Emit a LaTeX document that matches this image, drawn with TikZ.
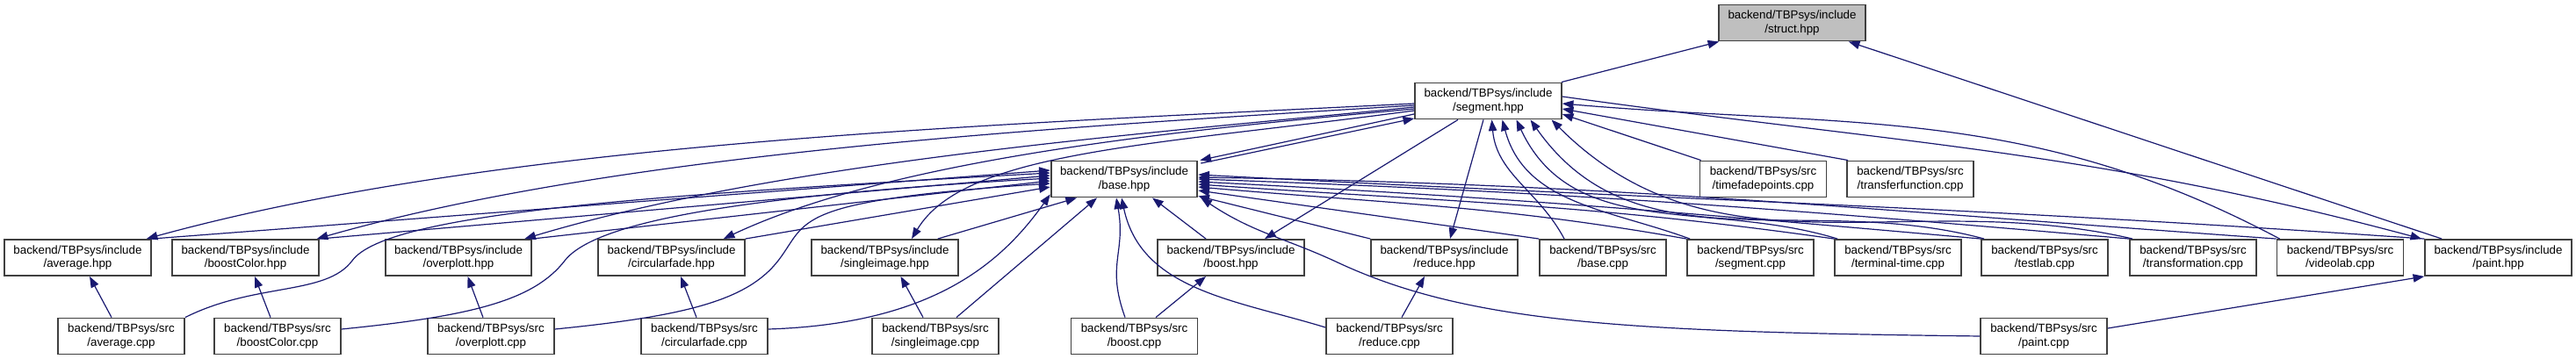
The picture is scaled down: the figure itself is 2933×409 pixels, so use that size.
\documentclass[tikz,border=0pt]{standalone}
\usepackage{fontspec}
\setmainfont{Liberation Sans}
\usetikzlibrary{arrows.meta}
\usepackage{xcolor}
\definecolor{edgeblue}{HTML}{191970}
\definecolor{boxline}{HTML}{404040}
\definecolor{rootfill}{HTML}{BFBFBF}

\begin{document}
\begin{tikzpicture}[x=0.75pt, y=0.75pt,
    file/.style={draw=boxline, line width=1.4pt, fill=white, inner sep=0pt,
        minimum height=30.75pt, align=center, font=\fontsize{10}{11.75}\selectfont},
    hdrfile/.style={file, minimum width=125pt},
    srcfile/.style={file, minimum width=108pt},
    incl/.style={draw=edgeblue, line width=0.9pt, -{Triangle[length=9.5pt, width=7pt]}}]

        % Background and size of the picture
        \path[fill=white] (0,0) rectangle (2933,409);
        \useasboundingbox (0,0) rectangle (2933,409);

        % Define the file boxes, row by row
        \node[hdrfile, fill=rootfill] (structH) at (2040.5,383) {backend/TBPsys/include\\/struct.hpp};

        \node[hdrfile] (segmentH) at (1694.5,294) {backend/TBPsys/include\\/segment.hpp};

        \node[hdrfile] (baseH)     at (1280,205)   {backend/TBPsys/include\\/base.hpp};
        \node[srcfile] (timefadeC) at (2007.5,205) {backend/TBPsys/src\\/timefadepoints.cpp};
        \node[srcfile] (transferC) at (2175,205)   {backend/TBPsys/src\\/transferfunction.cpp};

        \node[hdrfile] (averageH)      at (88.5,115.5)   {backend/TBPsys/include\\/average.hpp};
        \node[hdrfile] (boostColorH)   at (279.5,115.5)  {backend/TBPsys/include\\/boostColor.hpp};
        \node[hdrfile] (overplottH)    at (522,115.5)    {backend/TBPsys/include\\/overplott.hpp};
        \node[hdrfile] (circularfadeH) at (764.5,115.5)  {backend/TBPsys/include\\/circularfade.hpp};
        \node[hdrfile] (singleimageH)  at (1007.5,115.5) {backend/TBPsys/include\\/singleimage.hpp};
        \node[hdrfile] (boostH)        at (1401.5,115.5) {backend/TBPsys/include\\/boost.hpp};
        \node[hdrfile] (reduceH)       at (1644.5,115.5) {backend/TBPsys/include\\/reduce.hpp};
        \node[srcfile] (baseC)         at (1825,115.5)   {backend/TBPsys/src\\/base.cpp};
        \node[srcfile] (segmentC)      at (1993,115.5)   {backend/TBPsys/src\\/segment.cpp};
        \node[srcfile] (terminalC)     at (2161,115.5)   {backend/TBPsys/src\\/terminal-time.cpp};
        \node[srcfile] (testlabC)      at (2328,115.5)   {backend/TBPsys/src\\/testlab.cpp};
        \node[srcfile] (transformC)    at (2497,115.5)   {backend/TBPsys/src\\/transformation.cpp};
        \node[srcfile] (videolabC)     at (2664.5,115.5) {backend/TBPsys/src\\/videolab.cpp};
        \node[hdrfile] (paintH)        at (2844.5,115.5) {backend/TBPsys/include\\/paint.hpp};

        \node[srcfile] (averageC)      at (138,26)    {backend/TBPsys/src\\/average.cpp};
        \node[srcfile] (boostColorC)   at (316,26)    {backend/TBPsys/src\\/boostColor.cpp};
        \node[srcfile] (overplottC)    at (559,26)    {backend/TBPsys/src\\/overplott.cpp};
        \node[srcfile] (circularfadeC) at (802,26)    {backend/TBPsys/src\\/circularfade.cpp};
        \node[srcfile] (singleimageC)  at (1065,26)   {backend/TBPsys/src\\/singleimage.cpp};
        \node[srcfile] (boostC)        at (1291.5,26) {backend/TBPsys/src\\/boost.cpp};
        \node[srcfile] (reduceC)       at (1582,26)   {backend/TBPsys/src\\/reduce.cpp};
        \node[srcfile] (paintC)        at (2327,26)   {backend/TBPsys/src\\/paint.cpp};

        % Gaps the long curves pass through
        \coordinate (gapA) at (401,112);
        \coordinate (gapB) at (643,112);
        \coordinate (gapC) at (886,112);
        \coordinate (gapD) at (1523,110);

        % Includes of struct.hpp
        \draw[incl] (segmentH) -- (structH);
        \draw[incl] (paintH) -- (structH);

        % segment.hpp and base.hpp include each other
        \draw[incl] ([shift={(0,6.5)}]segmentH.south west) -- ([shift={(2,0)}]baseH.north east);
        \draw[incl] ([shift={(3,-3.5)}]baseH.north east) -- ([shift={(0,1.5)}]segmentH.south west);

        % Headers included by segment.hpp
        \draw[incl] ([shift={(0,-3)}]segmentH.west) .. controls +(-500,-25) and +(400,110) .. ([shift={(-6,0)}]averageH.north east);
        \draw[incl] ([shift={(0,-5)}]segmentH.west) .. controls +(-400,-25) and +(350,100) .. ([shift={(-3,0)}]boostColorH.north east);
        \draw[incl] ([shift={(0,-7)}]segmentH.west) .. controls +(-300,-30) and +(300,90) .. ([shift={(-9,0)}]overplottH.north east);
        \draw[incl] ([shift={(0,-9)}]segmentH.west) .. controls +(-250,-23) and +(200,94) .. ([shift={(-25,0)}]circularfadeH.north east);
        \draw[incl] ([shift={(0,-11)}]segmentH.west) .. controls +(-300,-40) and +(60,100) .. ([shift={(30.5,0)}]singleimageH.north);
        \draw[incl] ([shift={(-34.5,0)}]segmentH.south) -- ([shift={(38.5,0)}]boostH.north);
        \draw[incl] ([shift={(-5.5,0)}]segmentH.south) -- ([shift={(6.5,0)}]reduceH.north);
        \draw[incl] ([shift={(0,5)}]segmentH.east) .. controls +(386,-54) and +(-377,101) .. ([shift={(-3,0)}]paintH.north west);

        % Sources that include segment.hpp
        \draw[incl] ([shift={(2,0)}]timefadeC.north west) -- ([shift={(0,-15)}]segmentH.east);
        \draw[incl] ([shift={(2,0)}]transferC.north west) -- ([shift={(0,-9)}]segmentH.east);
        \draw[incl] ([shift={(4,0)}]videolabC.north west) .. controls +(-288,153) and +(325,-28) .. ([shift={(0,-3)}]segmentH.east);
        \draw[incl] ([shift={(-44,0)}]baseC.north) to[out=118, in=-85] ([shift={(4,0)}]segmentH.south);
        \draw[incl] ([shift={(4,0)}]segmentC.north west) to[out=160, in=-75] ([shift={(16,0)}]segmentH.south);
        \draw[incl] ([shift={(4,0)}]terminalC.north west) to[out=163, in=-65] ([shift={(32,0)}]segmentH.south);
        \draw[incl] ([shift={(4,0)}]testlabC.north west) to[out=165, in=-55] ([shift={(48,0)}]segmentH.south);
        \draw[incl] ([shift={(4,0)}]transformC.north west) to[out=167, in=-45] ([shift={(72,0)}]segmentH.south);

        % Right hand files that include base.hpp
        \draw[incl] (baseC.north west) -- ([shift={(0,-13)}]baseH.east);
        \draw[incl] (segmentC.north west) .. controls +(-216,38) and +(218,-19) .. ([shift={(0,-9)}]baseH.east);
        \draw[incl] (terminalC.north west) .. controls +(-282,40) and +(284,-20) .. ([shift={(0,-6)}]baseH.east);
        \draw[incl] (testlabC.north west) .. controls +(-349,31) and +(350,-18) .. ([shift={(0,-3)}]baseH.east);
        \draw[incl] (transformC.north west) .. controls +(-414,36) and +(416,-15) .. (baseH.east);
        \draw[incl] (videolabC.north west) .. controls +(-480,34) and +(481,-8) .. ([shift={(0,2)}]baseH.east);
        \draw[incl] (paintH.north west) .. controls +(-547,38) and +(547,-29) .. ([shift={(0,5)}]baseH.east);
        \draw[incl] (reduceH.north west) -- ([shift={(0,2)}]baseH.south east);
        \draw[incl] ([shift={(-28.5,0)}]boostH.north) -- ([shift={(32,0)}]baseH.south);

        % Left hand files that include base.hpp
        \draw[incl] (averageH.north east) -- ([shift={(0,10)}]baseH.west);
        \draw[incl] (boostColorH.north east) -- ([shift={(0,4)}]baseH.west);
        \draw[incl] (overplottH.north east) -- ([shift={(0,-2)}]baseH.west);
        \draw[incl] (circularfadeH.north east) -- ([shift={(0,-9)}]baseH.west);
        \draw[incl] ([shift={(-24,0)}]singleimageH.north east) -- ([shift={(-54,0)}]baseH.south);

        \draw[incl] (averageC.north east) .. controls +(80,40) and +(-30,-40) .. (gapA)
            .. controls +(40,55) and +(-450,-25) .. ([shift={(0,7)}]baseH.west);
        \draw[incl] ([shift={(0,8)}]boostColorC.east) .. controls +(150,15) and +(-35,-45) .. (gapB)
            .. controls +(35,45) and +(-350,-20) .. ([shift={(0,1)}]baseH.west);
        \draw[incl] ([shift={(0,8)}]overplottC.east) .. controls +(150,15) and +(-35,-45) .. (gapC)
            .. controls +(35,45) and +(-300,-20) .. ([shift={(0,-5)}]baseH.west);
        \draw[incl] ([shift={(0,8)}]circularfadeC.east) .. controls +(186,6) and +(-56,-79) .. ([shift={(0,4)}]baseH.south west);
        \draw[incl] ([shift={(24,0)}]singleimageC.north) -- ([shift={(-31,0)}]baseH.south);
        \draw[incl] ([shift={(-10.5,0)}]boostC.north) to[out=110, in=-80, looseness=1.2] ([shift={(-9,0)}]baseH.south);
        \draw[incl] ([shift={(0,10)}]reduceC.west) to[out=163, in=-78] ([shift={(-3,0)}]baseH.south);
        \draw[incl] (paintC.west) .. controls +(-400,5) and +(150,-70) .. (gapD)
            .. controls +(-60,28) and +(60,-40) .. ([shift={(3,0)}]baseH.south east);

        % Sources that include their own header
        \draw[incl] ([shift={(-11,0)}]averageC.north) -- ([shift={(13.5,0)}]averageH.south);
        \draw[incl] ([shift={(-8,0)}]boostColorC.north) -- ([shift={(10.5,0)}]boostColorH.south);
        \draw[incl] ([shift={(-9,0)}]overplottC.north) -- ([shift={(10.5,0)}]overplottH.south);
        \draw[incl] ([shift={(-9,0)}]circularfadeC.north) -- ([shift={(10.5,0)}]circularfadeH.south);
        \draw[incl] ([shift={(-14,0)}]singleimageC.north) -- ([shift={(18,0)}]singleimageH.south);
        \draw[incl] ([shift={(24.5,0)}]boostC.north) -- ([shift={(-28.5,0)}]boostH.south);
        \draw[incl] ([shift={(14,0)}]reduceC.north) -- ([shift={(-22.5,0)}]reduceH.south);
        \draw[incl] ([shift={(0,9)}]paintC.east) -- (paintH.south west);

    \end{tikzpicture}
\end{document}
